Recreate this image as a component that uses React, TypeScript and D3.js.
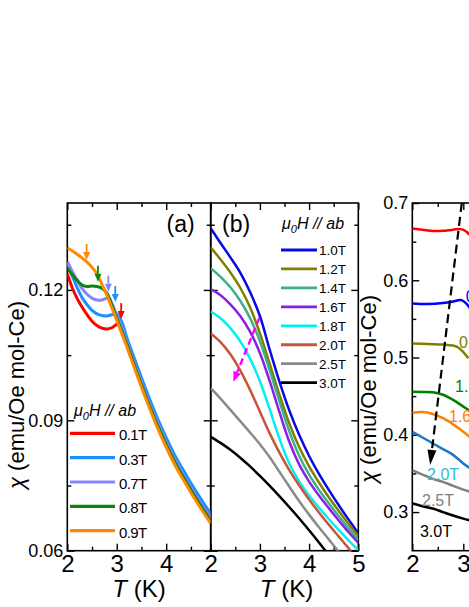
import React, { useRef, useEffect } from "react";
import * as d3 from "d3";

type Pt = [number, number];

// ---- panel (a): low fields, H // ab ----
const fieldsA = ["0.1T", "0.3T", "0.7T", "0.8T", "0.9T"];
const colorsA = ["#ff0000", "#1e8fff", "#8585ff", "#0c870c", "#ff8a00"];
const chiA01: Pt[] = [[2.0,0.1237],[2.1,0.1205],[2.2,0.1180],[2.3,0.1160],[2.4,0.1143],[2.5,0.1128],[2.6,0.1118],[2.7,0.1112],[2.8,0.1110],[2.9,0.1113],[3.0,0.1121],[3.05,0.1124],[3.1,0.1118],[3.2,0.1086],[3.4,0.1023],[3.6,0.0962],[3.8,0.0905],[4.0,0.0854],[4.2,0.0808],[4.4,0.0769],[4.6,0.0731],[4.8,0.0696],[4.9,0.0679]];
const chiA03: Pt[] = [[2.0,0.1262],[2.1,0.1232],[2.2,0.1205],[2.3,0.1182],[2.4,0.1166],[2.5,0.1153],[2.6,0.1145],[2.7,0.1141],[2.8,0.1140],[2.9,0.1143],[3.0,0.1145],[3.1,0.1127],[3.2,0.1092],[3.4,0.1029],[3.6,0.0968],[3.8,0.0911],[4.0,0.0860],[4.2,0.0814],[4.4,0.0775],[4.6,0.0737],[4.8,0.0702],[4.9,0.0685]];
const chiA07: Pt[] = [[2.0,0.1265],[2.1,0.1243],[2.2,0.1222],[2.3,0.1203],[2.4,0.1190],[2.5,0.1181],[2.6,0.1177],[2.7,0.1177],[2.8,0.1181],[2.85,0.1181],[2.9,0.1170],[3.0,0.1142],[3.1,0.1115],[3.2,0.1082],[3.4,0.1019],[3.6,0.0958],[3.8,0.0901],[4.0,0.0850],[4.2,0.0804],[4.4,0.0765],[4.6,0.0727],[4.8,0.0692],[4.9,0.0675]];
const chiA08: Pt[] = [[2.0,0.1250],[2.1,0.1235],[2.2,0.1222],[2.3,0.1211],[2.4,0.1208],[2.5,0.1209],[2.6,0.1208],[2.7,0.1204],[2.8,0.1193],[2.9,0.1165],[3.0,0.1135],[3.1,0.1106],[3.2,0.1076],[3.4,0.1013],[3.6,0.0952],[3.8,0.0895],[4.0,0.0844],[4.2,0.0798],[4.4,0.0759],[4.6,0.0721],[4.8,0.0686],[4.9,0.0669]];
const chiA09: Pt[] = [[2.0,0.1297],[2.2,0.1282],[2.4,0.1264],[2.5,0.1252],[2.6,0.1237],[2.7,0.1213],[2.8,0.1188],[2.9,0.1159],[3.0,0.1130],[3.1,0.1100],[3.2,0.1070],[3.4,0.1007],[3.6,0.0946],[3.8,0.0889],[4.0,0.0838],[4.2,0.0792],[4.4,0.0753],[4.6,0.0715],[4.8,0.0680],[4.9,0.0663]];
const seriesA = [chiA01, chiA03, chiA07, chiA08, chiA09];
// transition arrows (tip positions)
const arrowAT = [3.09, 2.97, 2.83, 2.62, 2.39];
const arrowAChi = [0.1133, 0.1172, 0.1196, 0.1219, 0.1269];

// ---- panel (b): higher fields ----
const fieldsB = ["1.0T", "1.2T", "1.4T", "1.6T", "1.8T", "2.0T", "2.5T", "3.0T"];
const colorsB = ["#0a0ae6", "#808000", "#3faf8a", "#8a1fe6", "#00f0f0", "#c8553a", "#8a8a8a", "#000000"];
const chiB10: Pt[] = [[2.0,0.1342],[2.2,0.1308],[2.4,0.1275],[2.6,0.1240],[2.8,0.1195],[3.0,0.1140],[3.2,0.1062],[3.4,0.0988],[3.6,0.0922],[3.8,0.0866],[4.0,0.0818],[4.2,0.0777],[4.4,0.0740],[4.6,0.0705],[4.8,0.0672],[5.0,0.0640]];
const chiB12: Pt[] = [[2.0,0.1298],[2.2,0.1270],[2.4,0.1240],[2.6,0.1205],[2.8,0.1160],[3.0,0.1100],[3.2,0.1030],[3.4,0.0958],[3.6,0.0892],[3.8,0.0838],[4.0,0.0794],[4.2,0.0757],[4.4,0.0723],[4.6,0.0692],[4.8,0.0662],[5.0,0.0634]];
const chiB14: Pt[] = [[2.0,0.1250],[2.2,0.1230],[2.4,0.1206],[2.6,0.1175],[2.8,0.1135],[3.0,0.1082],[3.2,0.1015],[3.4,0.0943],[3.6,0.0874],[3.8,0.0818],[4.0,0.0775],[4.2,0.0740],[4.4,0.0709],[4.6,0.0680],[4.8,0.0652],[5.0,0.0625]];
const chiB16: Pt[] = [[2.0,0.1202],[2.2,0.1188],[2.4,0.1167],[2.6,0.1140],[2.8,0.1104],[3.0,0.1055],[3.2,0.0990],[3.4,0.0918],[3.6,0.0850],[3.8,0.0798],[4.0,0.0759],[4.2,0.0727],[4.4,0.0698],[4.6,0.0670],[4.8,0.0643],[5.0,0.0618]];
const chiB18: Pt[] = [[2.0,0.1150],[2.2,0.1135],[2.4,0.1112],[2.6,0.1082],[2.8,0.1042],[3.0,0.0990],[3.2,0.0925],[3.4,0.0857],[3.6,0.0800],[3.8,0.0759],[4.0,0.0727],[4.2,0.0699],[4.4,0.0673],[4.6,0.0648],[4.8,0.0624],[5.0,0.0602]];
const chiB20: Pt[] = [[2.0,0.1100],[2.2,0.1080],[2.4,0.1052],[2.6,0.1015],[2.8,0.0970],[3.0,0.0920],[3.2,0.0870],[3.4,0.0825],[3.6,0.0785],[3.8,0.0750],[4.0,0.0718],[4.2,0.0688],[4.4,0.0660],[4.6,0.0633],[4.8,0.0606],[5.0,0.0580]];
const chiB25: Pt[] = [[2.0,0.0974],[2.2,0.0950],[2.4,0.0924],[2.6,0.0898],[2.8,0.0872],[3.0,0.0845],[3.2,0.0815],[3.4,0.0781],[3.6,0.0747],[3.8,0.0714],[4.0,0.0683],[4.2,0.0654],[4.4,0.0626],[4.6,0.0598],[4.8,0.0571]];
const chiB30: Pt[] = [[2.0,0.0862],[2.2,0.0848],[2.4,0.0832],[2.6,0.0814],[2.8,0.0794],[3.0,0.0772],[3.2,0.0749],[3.4,0.0725],[3.6,0.0700],[3.8,0.0674],[4.0,0.0647],[4.2,0.0619],[4.4,0.0590]];
const seriesB = [chiB10, chiB12, chiB14, chiB16, chiB18, chiB20, chiB25, chiB30];
// dashed magenta arrow: [T, chi] start and tip
const arrowB: Pt[] = [[2.99, 0.1136], [2.46, 0.0989]];

// ---- panel (c): only the left edge is in view ----
const labelsC = ["0.5T", "0.8T", "1.2T", "1.6T", "2.0T", "2.5T", "3.0T"];
const colorsC = ["#ff0000", "#0000ff", "#808000", "#008000", "#ff8000", "#1f78c0", "#808080", "#000000"];
const labelColorsC = ["#0000ff", "#808000", "#008000", "#ff8000", "#33bccc", "#808080", "#000000"];
const chiC0: Pt[] = [[2.0,0.6670],[2.2,0.6655],[2.4,0.6638],[2.6,0.6640],[2.8,0.6655],[2.95,0.6662],[3.05,0.6635],[3.15,0.6570]];
const chiC1: Pt[] = [[2.0,0.5700],[2.3,0.5692],[2.6,0.5705],[2.8,0.5725],[2.95,0.5745],[3.05,0.5705],[3.15,0.5620]];
const chiC2: Pt[] = [[2.0,0.5183],[2.3,0.5175],[2.6,0.5168],[2.8,0.5155],[2.9,0.5130],[3.0,0.5070],[3.1,0.4990]];
const chiC3: Pt[] = [[2.0,0.4556],[2.2,0.4555],[2.4,0.4550],[2.6,0.4518],[2.8,0.4452],[3.0,0.4365],[3.15,0.4300]];
const chiC4: Pt[] = [[2.0,0.4284],[2.2,0.4295],[2.4,0.4270],[2.6,0.4215],[2.8,0.4135],[3.0,0.4040],[3.15,0.3960]];
const chiC5: Pt[] = [[2.0,0.4038],[2.2,0.3965],[2.4,0.3890],[2.6,0.3815],[2.8,0.3740],[3.0,0.3630],[3.15,0.3560]];
const chiC6: Pt[] = [[2.0,0.3541],[2.2,0.3485],[2.4,0.3430],[2.6,0.3390],[2.8,0.3340],[3.0,0.3290],[3.15,0.3260]];
const chiC7: Pt[] = [[2.0,0.3110],[2.2,0.3075],[2.4,0.3046],[2.6,0.3000],[2.8,0.2955],[3.0,0.2915],[3.15,0.2890]];
const seriesC = [chiC0, chiC1, chiC2, chiC3, chiC4, chiC5, chiC6, chiC7];
// curve labels (text start, [T, chi])
const labelPosC: Pt[] = [[3.05, 0.5795], [2.915, 0.5193], [2.837, 0.463], [2.72, 0.4235], [2.29, 0.349], [2.19, 0.3153], [2.15, 0.2751]];
const arrowC: Pt[] = [[2.97, 0.70], [2.35, 0.361]];

// ticks
const xMajA = [2, 3, 4];
const xMajB = [2, 3, 4, 5];
const xMajC = [2, 3];
const xMinAB = [2.5, 3.5, 4.5];
const xMinC = [2.5];
const yMajAB = [0.06, 0.09, 0.12];
const yMinAB = [0.075, 0.105, 0.135];
const yMajC = [0.3, 0.4, 0.5, 0.6, 0.7];
const yMinC = [0.35, 0.45, 0.55, 0.65];

const FONT = "'Liberation Sans', Arial, Helvetica, sans-serif";

export default function App() {
  const ref = useRef<SVGSVGElement>(null);

  useEffect(() => {
    const svg = d3.select(ref.current);
    svg.selectAll("*").remove();

    const top = 203, bottom = 550.7;
    const xa = d3.scaleLinear().domain([2, 4.9]).range([67.3, 210.7]);
    const xb = d3.scaleLinear().domain([2, 5]).range([210.7, 358.3]);
    const xc = d3.scaleLinear().domain([2, 5]).range([412.3, 565.3]);
    const yab = d3.scaleLinear().domain([0.06, 0.14]).range([bottom, top]);
    const yc = d3.scaleLinear().domain([0.25, 0.7]).range([bottom, top]);

    const noLabel = () => "";

    function frame(name, x, y, xMaj, xMin, yMaj, yMin, xFmt, yFmt) {
      const [x0, x1] = x.range();
      const g = svg.append("g");
      const add = (axis, tr) => {
        const a = g.append("g").attr("transform", tr).call(axis);
        a.select(".domain").remove();
        a.selectAll("line").attr("stroke", "#000").attr("stroke-width", 1.4);
        a.selectAll("text").attr("fill", "#000").attr("font-family", FONT);
        return a;
      };
      add(d3.axisBottom(x).tickValues(xMaj).tickSize(-7).tickPadding(4.5).tickFormat(xFmt), `translate(0,${bottom})`)
        .selectAll("text").attr("font-size", 24);
      add(d3.axisBottom(x).tickValues(xMin).tickSize(-4).tickFormat(noLabel), `translate(0,${bottom})`);
      add(d3.axisTop(x).tickValues(xMaj).tickSize(-7).tickFormat(noLabel), `translate(0,${top})`);
      add(d3.axisTop(x).tickValues(xMin).tickSize(-4).tickFormat(noLabel), `translate(0,${top})`);
      add(d3.axisLeft(y).tickValues(yMaj).tickSize(-7).tickPadding(4).tickFormat(yFmt), `translate(${x0},0)`)
        .selectAll("text").attr("font-size", 18);
      add(d3.axisLeft(y).tickValues(yMin).tickSize(-4).tickFormat(noLabel), `translate(${x0},0)`);
      add(d3.axisRight(y).tickValues(yMaj).tickSize(-7).tickFormat(noLabel), `translate(${x1},0)`);
      add(d3.axisRight(y).tickValues(yMin).tickSize(-4).tickFormat(noLabel), `translate(${x1},0)`);
      g.append("rect")
        .attr("x", x0).attr("y", top).attr("width", x1 - x0).attr("height", bottom - top)
        .attr("fill", "none").attr("stroke", "#000").attr("stroke-width", 1.6);
      svg.append("clipPath").attr("id", "clip-" + name)
        .append("rect").attr("x", x0).attr("y", top).attr("width", x1 - x0).attr("height", bottom - top);
    }

    function curves(name, x, y, series, colors, width) {
      const line = d3.line<Pt>().x(d => x(d[0])).y(d => y(d[1])).curve(d3.curveCatmullRom.alpha(0.5));
      svg.append("g").attr("clip-path", `url(#clip-${name})`)
        .selectAll("path").data(series).enter().append("path")
        .attr("d", d => line(d))
        .attr("fill", "none")
        .attr("stroke", (d, i) => colors[i])
        .attr("stroke-width", width)
        .attr("stroke-linejoin", "round");
    }

    function arrow(x1, y1, x2, y2, color, width, dash, headLen, headW) {
      const dx = x2 - x1, dy = y2 - y1, L = Math.hypot(dx, dy);
      const ux = dx / L, uy = dy / L;
      const bx = x2 - ux * headLen, by = y2 - uy * headLen;
      svg.append("line")
        .attr("x1", x1).attr("y1", y1).attr("x2", bx).attr("y2", by)
        .attr("stroke", color).attr("stroke-width", width)
        .attr("stroke-dasharray", dash);
      svg.append("path")
        .attr("d", `M${x2},${y2}L${bx - uy * headW / 2},${by + ux * headW / 2}L${bx + uy * headW / 2},${by - ux * headW / 2}Z`)
        .attr("fill", color);
    }

    // frames + axes
    frame("a", xa, yab, xMajA, xMinAB, yMajAB, yMinAB, d3.format("d"), d3.format(".2f"));
    frame("b", xb, yab, xMajB, xMinAB, yMajAB, yMinAB, d3.format("d"), noLabel);
    frame("c", xc, yc, xMajC, xMinC, yMajC, yMinC, d3.format("d"), d3.format(".1f"));

    // ---- panel (a) ----
    curves("a", xa, yab, seriesA, colorsA, 3);
    arrowAT.forEach((t, i) => {
      const px = xa(t), py = yab(arrowAChi[i]);
      arrow(px, py - 16, px, py, colorsA[i], 1.8, null, 8, 7);
    });
    svg.append("text").attr("x", 166.5).attr("y", 232).attr("font-size", 23)
      .attr("font-family", FONT).text("(a)");
    const hdrA = svg.append("text").attr("x", 74).attr("y", 416).attr("font-size", 16)
      .attr("font-family", FONT).attr("font-style", "italic");
    hdrA.append("tspan").text("μ");
    hdrA.append("tspan").attr("font-size", 11).attr("dy", 4).text("0");
    hdrA.append("tspan").attr("dy", -4).text("H // ab");
    fieldsA.forEach((f, i) => {
      const ly = 433.3 + i * 24.35;
      svg.append("line").attr("x1", 70).attr("x2", 115).attr("y1", ly).attr("y2", ly)
        .attr("stroke", colorsA[i]).attr("stroke-width", 3.2);
      svg.append("text").attr("x", 119).attr("y", ly + 7).attr("font-size", 15)
        .attr("letter-spacing", -0.6).attr("font-family", FONT).text(f);
    });

    // ---- panel (b) ----
    curves("b", xb, yab, seriesB, colorsB, 2.5);
    arrow(xb(arrowB[0][0]), yab(arrowB[0][1]), xb(arrowB[1][0]), yab(arrowB[1][1]),
      "#ff00ff", 2.4, "7,4", 10, 8);
    svg.append("text").attr("x", 222).attr("y", 232).attr("font-size", 23)
      .attr("font-family", FONT).text("(b)");
    const hdrB = svg.append("text").attr("x", 282).attr("y", 229).attr("font-size", 16)
      .attr("font-family", FONT).attr("font-style", "italic");
    hdrB.append("tspan").text("μ");
    hdrB.append("tspan").attr("font-size", 11).attr("dy", 4).text("0");
    hdrB.append("tspan").attr("dy", -4).text("H // ab");
    fieldsB.forEach((f, i) => {
      const ly = 250 + i * 18.95;
      svg.append("line").attr("x1", 281).attr("x2", 317).attr("y1", ly).attr("y2", ly)
        .attr("stroke", colorsB[i]).attr("stroke-width", 2.8);
      svg.append("text").attr("x", 319).attr("y", ly + 5).attr("font-size", 13.5)
        .attr("font-family", FONT).text(f);
    });

    // ---- panel (c) ----
    curves("c", xc, yc, seriesC, colorsC, 2.5);
    labelPosC.forEach((p, i) => {
      svg.append("text").attr("x", xc(p[0])).attr("y", yc(p[1])).attr("dy", "0.35em")
        .attr("font-size", 16).attr("font-family", FONT).attr("fill", labelColorsC[i])
        .text(labelsC[i]);
    });
    arrow(xc(arrowC[0][0]), yc(arrowC[0][1]), xc(arrowC[1][0]), yc(arrowC[1][1]),
      "#000", 2.2, "9,5", 15, 9);

    // axis titles
    const xTitle = (cx) => {
      const t = svg.append("text").attr("x", cx).attr("y", 597).attr("text-anchor", "middle")
        .attr("font-size", 24).attr("font-family", FONT);
      t.append("tspan").attr("font-style", "italic").text("T");
      t.append("tspan").text(" (K)");
    };
    xTitle((xa.range()[0] + xa.range()[1]) / 2);
    xTitle((xb.range()[0] + xb.range()[1]) / 2 + 2);

    const yTitle = (bx, cy) => {
      const t = svg.append("text").attr("transform", `translate(${bx},${cy}) rotate(-90)`)
        .attr("text-anchor", "middle").attr("font-size", 22).attr("font-family", FONT);
      t.append("tspan").attr("font-style", "italic").text("χ");
      t.append("tspan").text(" (emu/Oe mol-Ce)");
    };
    yTitle(24, 395);
    yTitle(376, 389);
  }, []);

  return (
    <svg ref={ref} width={469} height={607}
      style={{ position: "absolute", left: 0, top: 0, background: "#fff" }} />
  );
}
